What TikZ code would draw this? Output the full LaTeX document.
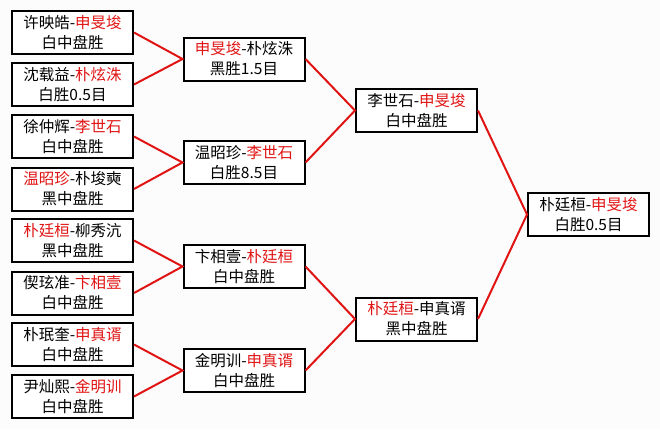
\documentclass[tikz,border=0pt]{standalone}
\usepackage{fontspec}
\setmainfont{Noto Sans CJK SC}
\definecolor{wred}{RGB}{225,20,20}
\definecolor{bgc}{RGB}{252,252,252}
\tikzset{
  game/.style={draw=black, line width=2pt, fill=white, minimum width=121pt, minimum height=43pt,
    inner sep=0pt, align=center, font=\fontsize{15.5pt}{20pt}\selectfont},
  link/.style={draw=wred, line width=2pt},
}
\newcommand{\rn}[1]{\textcolor{wred}{#1}}
\begin{document}
\begin{tikzpicture}[x=1pt,y=-1pt]
\fill[bgc] (0,0) rectangle (660,429);
\useasboundingbox (0,0) rectangle (660,429);
% round 1
\node[game] (a1) at (72.5,32.5) {许映皓-\rn{申旻埈}\\白中盘胜};
\node[game] (a2) at (72.5,84.5) {沈载益-\rn{朴炫洙}\\白胜0.5目};
\node[game] (a3) at (72.5,136.5) {徐仲辉-\rn{李世石}\\白中盘胜};
\node[game] (a4) at (72.5,189) {\rn{温昭珍}-朴埈奭\\黑中盘胜};
\node[game] (a5) at (72.5,240.5) {\rn{朴廷桓}-柳秀沆\\黑中盘胜};
\node[game] (a6) at (72.5,293) {偰玹准-\rn{卞相壹}\\白中盘胜};
\node[game] (a7) at (72.5,344.5) {朴珉奎-\rn{申真谞}\\白中盘胜};
\node[game] (a8) at (72.5,396.5) {尹灿熙-\rn{金明训}\\白中盘胜};
% round 2
\node[game] (b1) at (244,59) {\rn{申旻埈}-朴炫洙\\黑胜1.5目};
\node[game] (b2) at (244,162.5) {温昭珍-\rn{李世石}\\白胜8.5目};
\node[game] (b3) at (244,266.5) {卞相壹-\rn{朴廷桓}\\白中盘胜};
\node[game] (b4) at (244,370.5) {金明训-\rn{申真谞}\\白中盘胜};
% semifinals
\node[game] (c1) at (416.5,110.5) {李世石-\rn{申旻埈}\\白中盘胜};
\node[game] (c2) at (416.5,319) {\rn{朴廷桓}-申真谞\\黑中盘胜};
% final
\node[game] (d1) at (588.5,214.5) {朴廷桓-\rn{申旻埈}\\白胜0.5目};
% connectors
\draw[link] (a1.east) -- (b1.west) -- (a2.east);
\draw[link] (a3.east) -- (b2.west) -- (a4.east);
\draw[link] (a5.east) -- (b3.west) -- (a6.east);
\draw[link] (a7.east) -- (b4.west) -- (a8.east);
\draw[link] (b1.east) -- (c1.west) -- (b2.east);
\draw[link] (b3.east) -- (c2.west) -- (b4.east);
\draw[link] (c1.east) -- (d1.west) -- (c2.east);
\end{tikzpicture}
\end{document}
